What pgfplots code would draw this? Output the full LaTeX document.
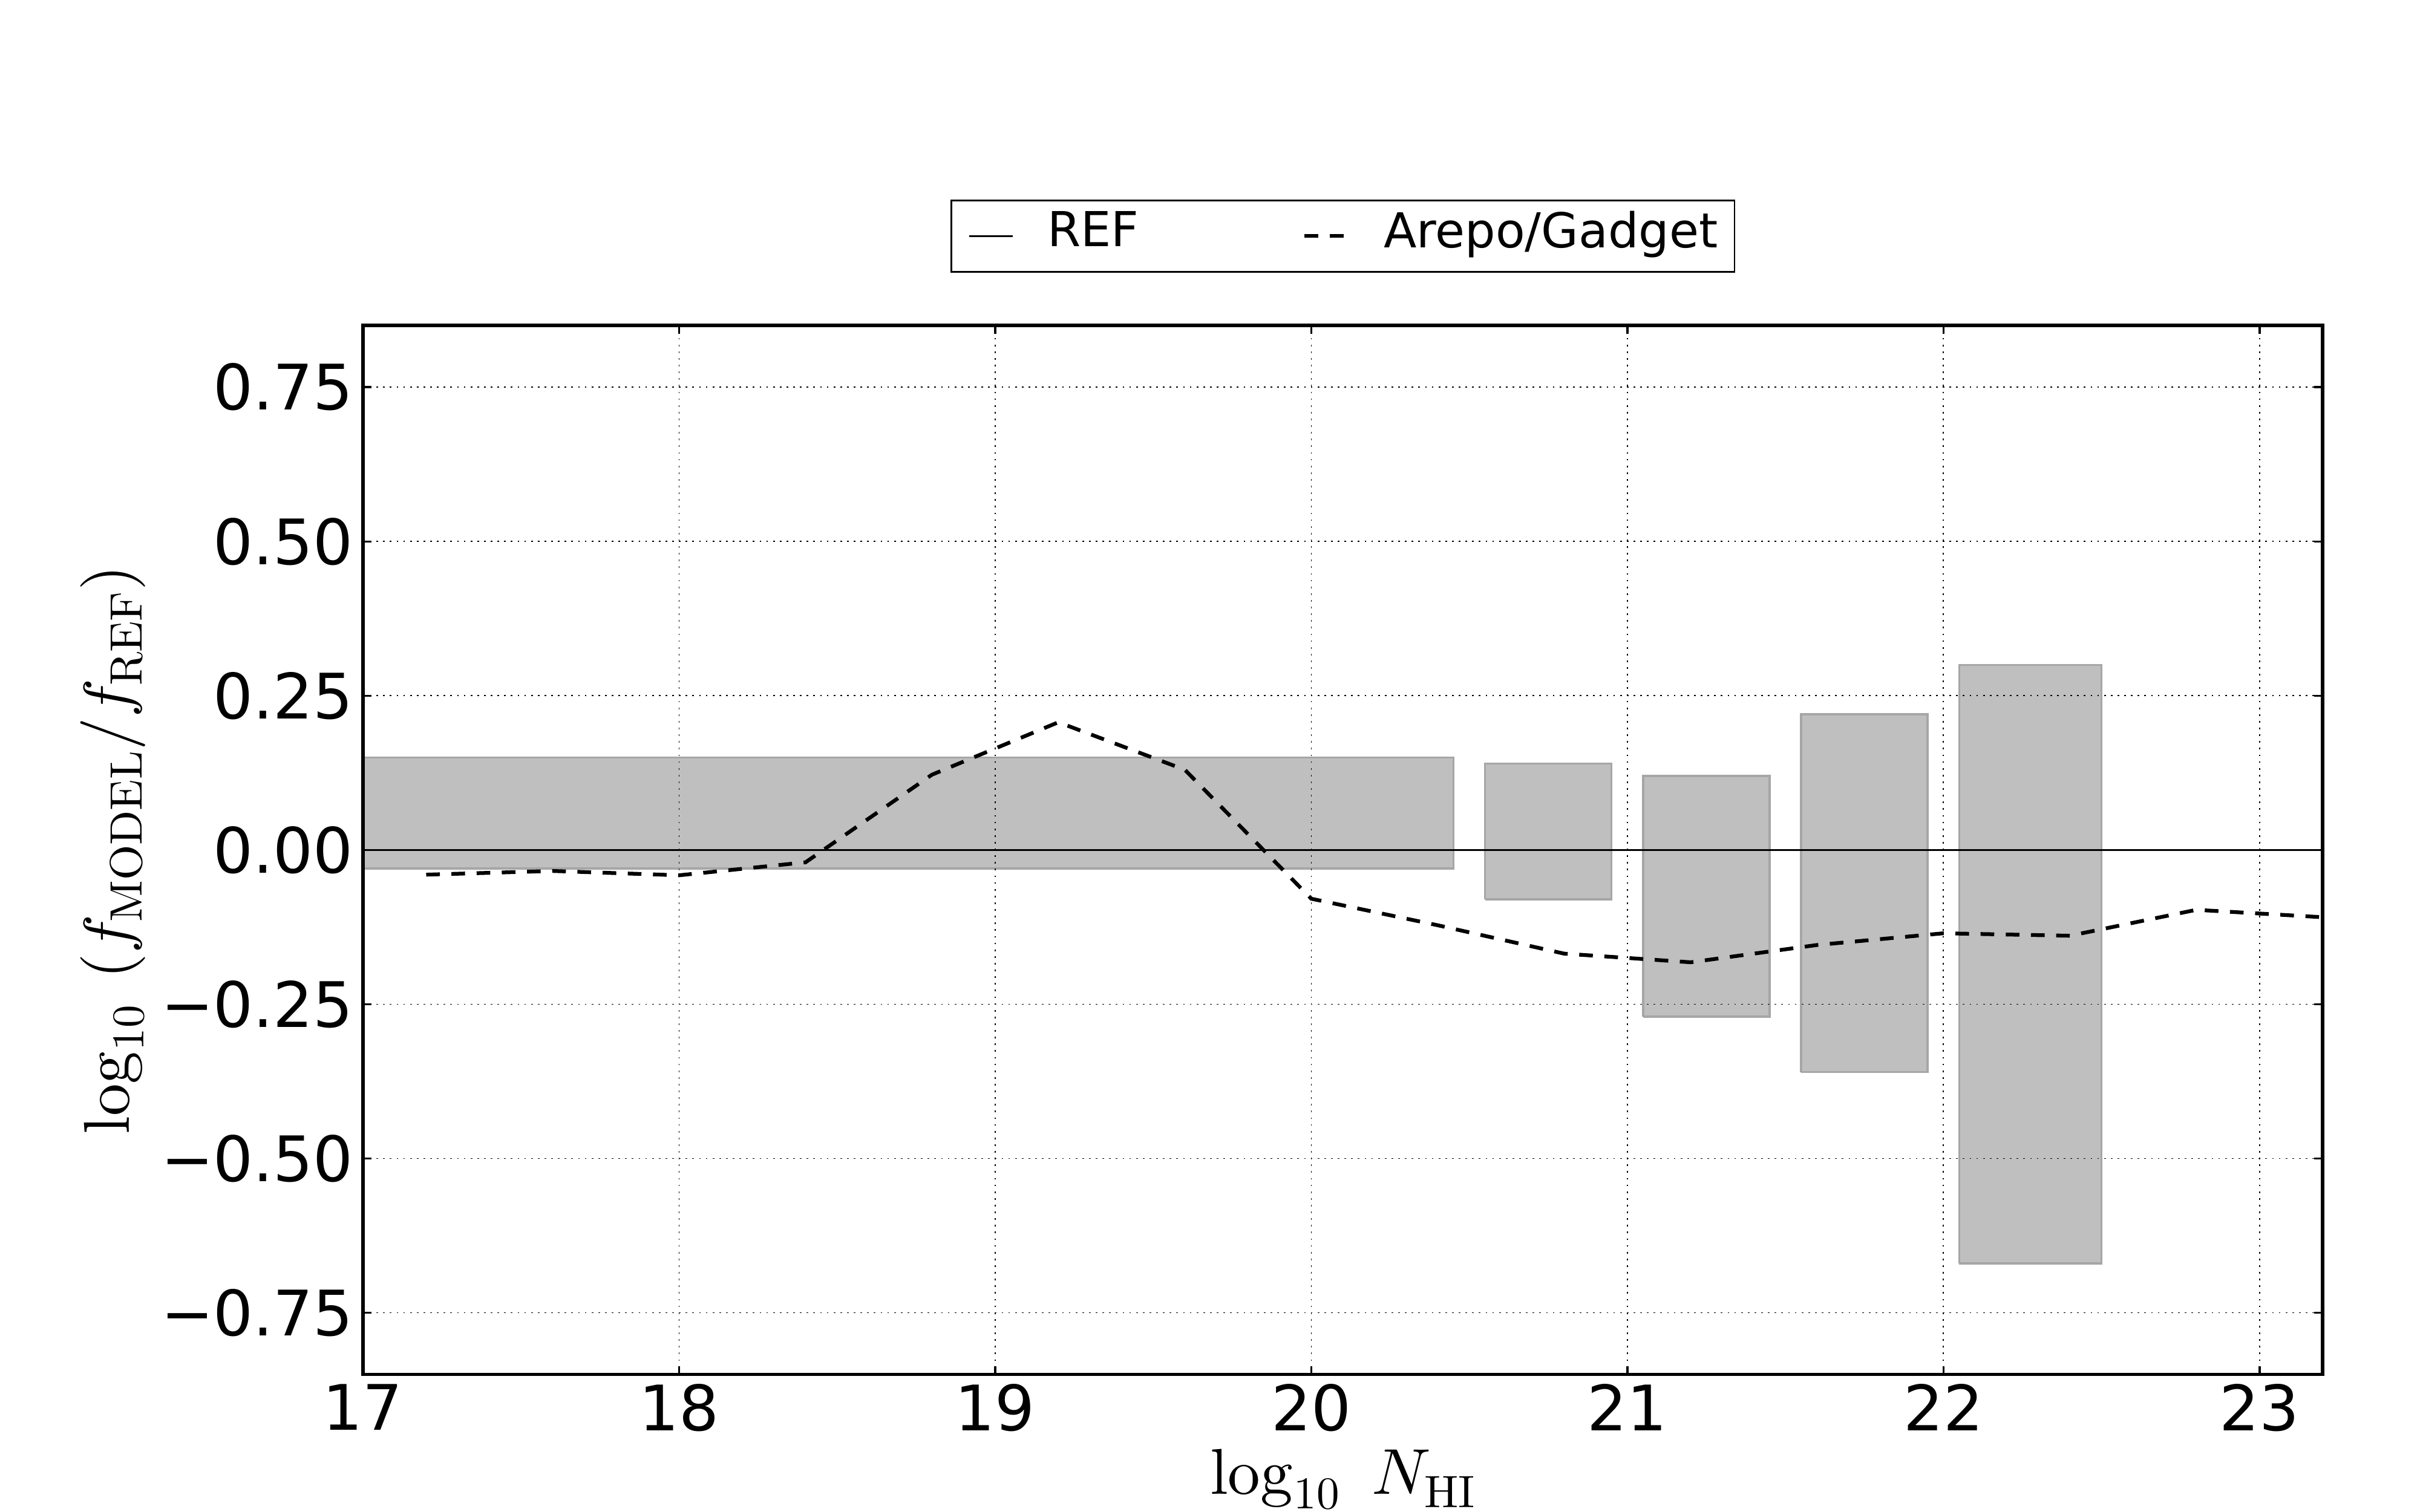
\documentclass[border=0pt]{standalone}
\usepackage[no-math]{fontspec}
\usepackage{pgfplots}
\pgfplotsset{compat=1.18}
\newfontfamily\dejavu{DejaVu Sans}
% Computer Modern at design size 10, scaled freely (as in matplotlib mathtext)
\DeclareFontFamily{OT1}{cmrten}{}
\DeclareFontShape{OT1}{cmrten}{m}{n}{<->cmr10}{}
\DeclareFontFamily{OML}{cmmten}{\skewchar\font'177}
\DeclareFontShape{OML}{cmmten}{m}{it}{<->cmmi10}{}
\DeclareSymbolFont{operators}{OT1}{cmrten}{m}{n}
\DeclareSymbolFont{letters}{OML}{cmmten}{m}{it}
\SetMathAlphabet{\mathrm}{normal}{OT1}{cmrten}{m}{n}
\newcommand\tickfont{\dejavu\fontsize{30}{36}\selectfont}
\newcommand\legfont{\dejavu\fontsize{23}{28}\selectfont}
\newcommand\labfont{\fontsize{31}{37}\selectfont}
\definecolor{boxfill}{HTML}{BFBFBF}
\definecolor{boxedge}{HTML}{A6A6A6}

\pgfplotstableread{
x y
17.2 -0.040
17.6 -0.034
18.0 -0.041
18.4 -0.020
18.8 0.122
19.2 0.207
19.6 0.130
20.0 -0.079
20.4 -0.122
20.8 -0.168
21.2 -0.182
21.6 -0.154
22.0 -0.135
22.4 -0.139
22.8 -0.097
23.2 -0.109
}\arepo

\begin{document}
\begin{tikzpicture}
\useasboundingbox (-172.8bp,-65.5bp) rectangle (979.2bp,654.5bp);
\begin{axis}[
  scale only axis, width=932.9bp, height=499.5bp,
  xmin=17, xmax=23.2, ymin=-0.85, ymax=0.85,
  axis on top,
  axis line style={line width=1.6bp},
  xtick={17,18,19,20,21,22,23},
  xticklabels={17,18,19,20,21,22,23},
  ytick={-0.75,-0.5,-0.25,0,0.25,0.5,0.75},
  yticklabels={−0.75,−0.50,−0.25,0.00,0.25,0.50,0.75},
  tick label style={font=\tickfont, inner sep=0pt},
  xticklabel style={anchor=north},
  yticklabel style={anchor=east},
  xticklabel shift=4.5bp,
  yticklabel shift=4.4bp,
  tick style={black, line width=1bp},
  major tick length=4bp,
  grid=major,
  major grid style={black, line width=0.5bp, dash pattern=on 0.8bp off 2.4bp},
  xlabel={$\log_{10}\hspace{11bp}N_{\mathrm{HI}}$},
  ylabel={$\log_{10}\hspace{12bp}(f_{\mathrm{MODEL}}/f_{\mathrm{REF}})$},
  label style={font=\labfont},
  xlabel style={at={(axis description cs:0.5,-0.1141)}, anchor=base},
  ylabel style={at={(axis description cs:-0.1194,0.5)}, anchor=base, rotate=0},
  legend columns=2,
  legend style={at={(0.5,1.1201)}, anchor=north, draw=black, line width=0.8bp,
    font=\legfont, inner xsep=8bp, inner ysep=5bp,
    nodes={inner sep=0pt, text depth=0.66em},
    /tikz/every odd column/.append style={column sep=16bp},
    /tikz/every even column/.append style={column sep=78bp}},
  legend image code/.code={\draw[#1] (0bp,0bp) -- (20.8bp,0bp);},
]
% shaded boxes
\addplot[fill=boxfill, draw=boxedge, line width=1bp, forget plot]
  coordinates {(16.9,-0.03) (20.45,-0.03) (20.45,0.15) (16.9,0.15) (16.9,-0.03)};
\addplot[fill=boxfill, draw=boxedge, line width=1bp, forget plot]
  coordinates {(20.55,-0.08) (20.95,-0.08) (20.95,0.14) (20.55,0.14) (20.55,-0.08)};
\addplot[fill=boxfill, draw=boxedge, line width=1bp, forget plot]
  coordinates {(21.05,-0.27) (21.45,-0.27) (21.45,0.12) (21.05,0.12) (21.05,-0.27)};
\addplot[fill=boxfill, draw=boxedge, line width=1bp, forget plot]
  coordinates {(21.55,-0.36) (21.95,-0.36) (21.95,0.22) (21.55,0.22) (21.55,-0.36)};
\addplot[fill=boxfill, draw=boxedge, line width=1bp, forget plot]
  coordinates {(22.05,-0.67) (22.5,-0.67) (22.5,0.30) (22.05,0.30) (22.05,-0.67)};
% REF
\addplot[black, line width=1bp] coordinates {(17,0) (23.2,0)};
\addlegendentry{REF}
% Arepo/Gadget
\addplot[black, line width=1.8bp, dash pattern=on 6.5bp off 5.5bp] table[x=x,y=y] {\arepo};
\addlegendentry{Arepo/Gadget}
\end{axis}
\end{tikzpicture}
\end{document}
